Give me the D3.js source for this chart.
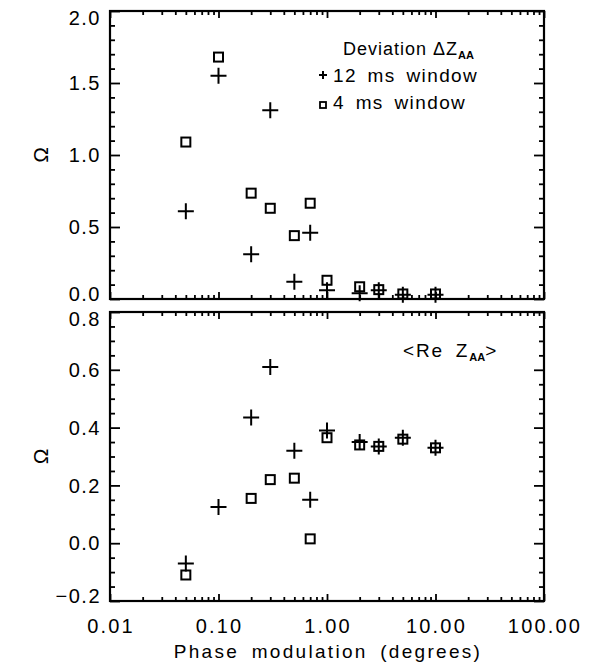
<!DOCTYPE html>
<html>
<head>
<meta charset="utf-8">
<script src="https://cdn.jsdelivr.net/npm/d3@7"></script>
<style>
  html, body { margin: 0; padding: 0; background: #fff; }
  svg { display: block; }
  text { font-family: "Liberation Sans", Arial, Helvetica, sans-serif; fill: #000; }
</style>
</head>
<body>
<svg id="chart" width="596" height="667"></svg>
<script>
// ---- data ----
const phase = [0.05, 0.1, 0.2, 0.3, 0.5, 0.7, 1, 2, 3, 5, 10];
const dev12 = [0.61, 1.55, 0.31, 1.31, 0.12, 0.46, 0.06, 0.04, 0.06, 0.03, 0.03];
const dev4  = [1.09, 1.68, 0.735, 0.63, 0.44, 0.665, 0.13, 0.085, 0.065, 0.035, 0.035];
const re12  = [-0.07, 0.125, 0.435, 0.61, 0.32, 0.15, 0.39, 0.35, 0.335, 0.365, 0.33];
const re4   = [-0.11, null, 0.155, 0.22, 0.225, 0.015, 0.365, 0.34, 0.335, 0.36, 0.33];
const xTickValues = [0.01, 0.1, 1, 10, 100];
const xTickLabels = ["0.01", "0.10", "1.00", "10.00", "100.00"];
const topYTicks = [0, 0.5, 1.0, 1.5, 2.0];
const topYLabels = ["0.0", "0.5", "1.0", "1.5", "2.0"];
const botYTicks = [-0.2, 0, 0.2, 0.4, 0.6, 0.8];
const botYLabels = ["\u22120.2", "0.0", "0.2", "0.4", "0.6", "0.8"];
const legendTop = ["Deviation \u0394Z", "AA", "12 ms window", "4 ms window"];
const legendBot = ["<Re Z", "AA", ">"];
const xTitle = "Phase modulation (degrees)";
const yTitle = "\u03A9";

// ---- layout ----
const svg = d3.select("#chart");
const L = 110, R = 544;
const panels = [
  { top: 11, bottom: 299, domain: [0, 2], major: topYTicks, labels: topYLabels, minorStep: 0.1, s12: dev12, s4: dev4 },
  { top: 312, bottom: 601, domain: [-0.2, 0.8], major: botYTicks, labels: botYLabels, minorStep: 0.05, s12: re12, s4: re4 }
];

const x = d3.scaleLog().domain([0.01, 100]).range([L, R]);
const xMinor = [];
for (let e = -2; e < 2; e++) for (let m = 2; m <= 9; m++) xMinor.push(m * Math.pow(10, e));

const fontSize = 20;

panels.forEach((p, pi) => {
  const y = d3.scaleLinear().domain(p.domain).range([p.bottom, p.top]);
  p.y = y;
  const g = svg.append("g");
  const yMinor = [];
  for (let v = p.domain[0]; v <= p.domain[1] + 1e-9; v += p.minorStep) {
    const r = Math.round(v * 1000) / 1000;
    if (!p.major.some(m => Math.abs(m - r) < 1e-6)) yMinor.push(r);
  }
  const mk = (axisFn, scale, vals, size, pos) => {
    const a = g.append("g").attr("transform", pos)
      .call(axisFn(scale).tickValues(vals).tickSize(-size).tickFormat(""));
    a.select(".domain").remove();
    a.selectAll("line").attr("stroke", "#000").attr("stroke-width", 1.8);
    return a;
  };
  mk(d3.axisBottom, x, xTickValues, 7, `translate(0,${p.bottom})`);
  mk(d3.axisBottom, x, xMinor, 4, `translate(0,${p.bottom})`);
  mk(d3.axisTop, x, xTickValues, 7, `translate(0,${p.top})`);
  mk(d3.axisTop, x, xMinor, 4, `translate(0,${p.top})`);
  mk(d3.axisLeft, y, p.major, 10, `translate(${L},0)`);
  mk(d3.axisLeft, y, yMinor, 5, `translate(${L},0)`);
  mk(d3.axisRight, y, p.major, 10, `translate(${R},0)`);
  mk(d3.axisRight, y, yMinor, 5, `translate(${R},0)`);

  g.append("rect").attr("x", L).attr("y", p.top).attr("width", R - L).attr("height", p.bottom - p.top)
    .attr("fill", "none").attr("stroke", "#000").attr("stroke-width", 2.2);

  p.major.forEach((v, i) => {
    let yy = y(v);
    if (i === 0) yy -= 5;
    if (i === p.major.length - 1) yy += 7;
    g.append("text").attr("x", L - 9).attr("y", yy).attr("dy", "0.36em")
      .attr("text-anchor", "end").attr("font-size", fontSize).attr("letter-spacing", 1.5)
      .text(p.labels[i]);
  });

  g.append("text").attr("transform", `translate(48,${(p.top + p.bottom) / 2}) rotate(-90)`)
    .attr("text-anchor", "middle").attr("font-size", 21).text(yTitle);

  const pts12 = phase.map((d, i) => [d, p.s12[i]]).filter(d => d[1] != null);
  const pts4 = phase.map((d, i) => [d, p.s4[i]]).filter(d => d[1] != null);
  g.selectAll(".plus").data(pts12).enter().append("path")
    .attr("d", d => { const cx = x(d[0]), cy = y(d[1]); return `M${cx - 8},${cy}H${cx + 8}M${cx},${cy - 8}V${cy + 8}`; })
    .attr("stroke", "#000").attr("stroke-width", 2).attr("fill", "none");
  g.selectAll(".sq").data(pts4).enter().append("rect")
    .attr("x", d => x(d[0]) - 4.5).attr("y", d => y(d[1]) - 4.5)
    .attr("width", 9).attr("height", 9)
    .attr("fill", "none").attr("stroke", "#000").attr("stroke-width", 2);
});

xTickValues.forEach((v, i) => {
  svg.append("text").attr("x", x(v) + 1).attr("y", 633).attr("text-anchor", "middle")
    .attr("font-size", fontSize).attr("letter-spacing", 2.2).text(xTickLabels[i]);
});
svg.append("text").attr("x", 328).attr("y", 658).attr("text-anchor", "middle")
  .attr("font-size", 19).attr("letter-spacing", 2.3).attr("word-spacing", 5).text(xTitle);

// legends
const lt = svg.append("text").attr("x", 343).attr("y", 55).attr("font-size", 18).attr("letter-spacing", 1);
lt.append("tspan").text(legendTop[0]);
lt.append("tspan").attr("font-size", 11).attr("font-weight", "bold").attr("dy", 4).attr("letter-spacing", 0).text(legendTop[1]);

svg.append("path").attr("d", "M319,75H327M323,71V79").attr("stroke", "#000").attr("stroke-width", 2);
svg.append("text").attr("x", 333).attr("y", 82).attr("font-size", 19).attr("letter-spacing", 1.4)
  .attr("word-spacing", 4).text(legendTop[2]);
svg.append("rect").attr("x", 320).attr("y", 102).attr("width", 6).attr("height", 6)
  .attr("fill", "none").attr("stroke", "#000").attr("stroke-width", 1.8);
svg.append("text").attr("x", 333).attr("y", 109).attr("font-size", 19).attr("letter-spacing", 1.4)
  .attr("word-spacing", 4).text(legendTop[3]);

const lb = svg.append("text").attr("x", 403).attr("y", 357).attr("font-size", 19).attr("letter-spacing", 1.8)
  .attr("word-spacing", 5);
lb.append("tspan").text(legendBot[0]);
lb.append("tspan").attr("font-size", 11).attr("font-weight", "bold").attr("dy", 4).attr("letter-spacing", 0).text(legendBot[1]);
lb.append("tspan").attr("dy", -4).text(legendBot[2]);
</script>
</body>
</html>
